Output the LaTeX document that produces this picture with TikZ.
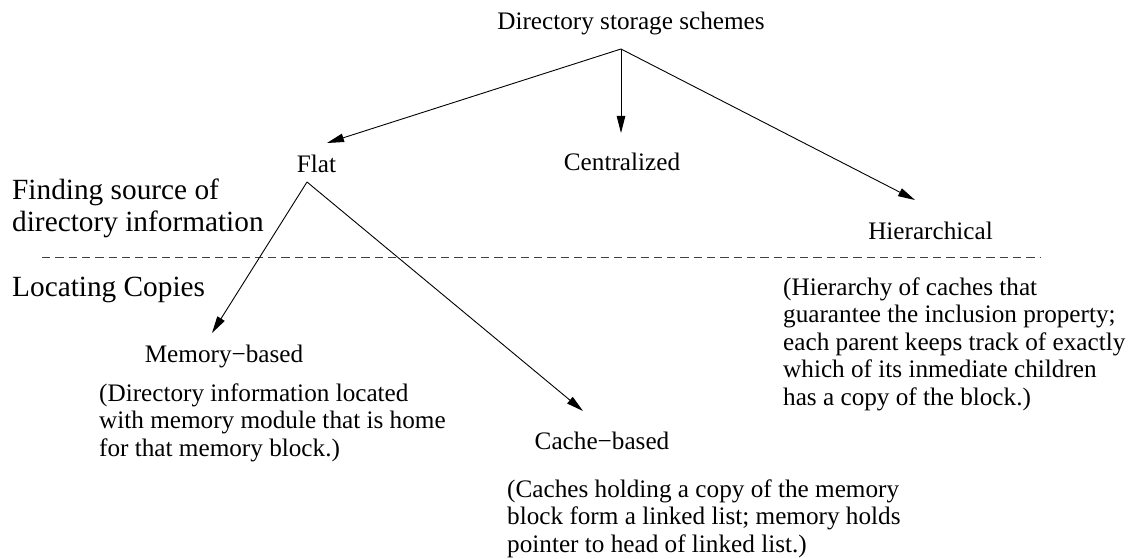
\documentclass[tikz,border=0pt]{standalone}
\usepackage{fontspec}
\setmainfont{Liberation Serif}
\usetikzlibrary{arrows.meta}

\tikzset{
  lbl/.style={inner sep=0pt, anchor=base, font=\fontsize{25.2}{27.5}\selectfont},
  side/.style={inner sep=0pt, anchor=base west, font=\fontsize{29.3}{32}\selectfont},
  desc/.style={inner sep=0pt, anchor=base west, font=\fontsize{25.2}{27.5}\selectfont},
  link/.style={line width=0.9pt, -{Triangle[length=17pt, width=8.5pt]}},
  divider/.style={line width=0.9pt, black!75, dash pattern=on 8.3pt off 5pt},
}

\newcommand{\lines}[1]{\begin{tabular}[t]{@{}l@{}}#1\end{tabular}}

\begin{document}
\begin{tikzpicture}[x=1pt, y=-1pt]
  \useasboundingbox (0,0) rectangle (1130,559);

  % tree labels
  \node[lbl] (root) at (631,30) {Directory storage schemes};
  \node[lbl] (flat) at (316.5,172) {Flat};
  \node[lbl] (central) at (622,171) {Centralized};
  \node[lbl] (hier) at (930.5,239) {Hierarchical};
  \node[lbl] (mem) at (224,362) {Memory−based};
  \node[lbl] (cache) at (602,449) {Cache−based};

  % level captions
  \node[side] (finding) at (12,200) {\lines{Finding source of\\directory information}};
  \node[side] (locating) at (12,296) {Locating Copies};

  % explanations
  \node[desc] (memdesc) at (99,401) {\lines{(Directory information located\\with memory module that is home\\for that memory block.)}};
  \node[desc] (cachedesc) at (507,497) {\lines{(Caches holding a copy of the memory\\block form a linked list; memory holds\\pointer to head of linked list.)}};
  \node[desc] (hierdesc) at (783,295) {\lines{(Hierarchy of caches that\\guarantee the inclusion property;\\each parent keeps track of exactly\\which of its inmediate children\\has a copy of the block.)}};

  % connector end points
  \coordinate (rootout) at (621,49);
  \coordinate (flatin) at (327,143);
  \coordinate (centralin) at (621,133);
  \coordinate (hierin) at (915,200);
  \coordinate (flatout) at (307,182);
  \coordinate (memin) at (212,333);
  \coordinate (cachein) at (583,411);

  % separator between the two levels
  \coordinate (divl) at (42,257);
  \coordinate (divr) at (1040,257);
  \draw[divider] (divl) -- (divr);

  % arrows
  \draw[link] (rootout) -- (flatin);
  \draw[link] (rootout) -- (centralin);
  \draw[link] (rootout) -- (hierin);
  \draw[link] (flatout) -- (memin);
  \draw[link] (flatout) -- (cachein);
\end{tikzpicture}
\end{document}
